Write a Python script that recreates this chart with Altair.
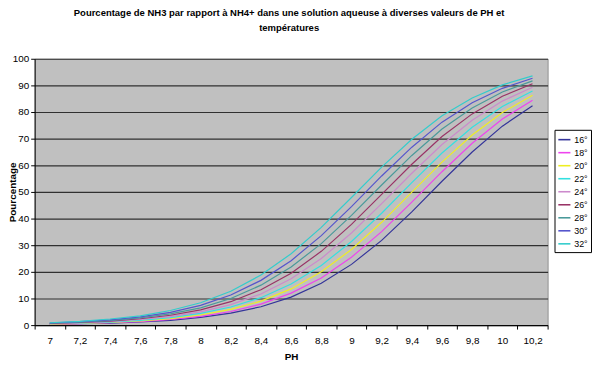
import altair as alt
import pandas as pd

ph_labels = ["7", "7,2", "7,4", "7,6", "7,8", "8", "8,2", "8,4", "8,6", "8,8",
             "9", "9,2", "9,4", "9,6", "9,8", "10", "10,2"]
temps = ["16°", "18°", "20°", "22°", "24°", "26°", "28°", "30°", "32°"]

pct_16 = [0.3, 0.5, 0.7, 1.2, 1.8, 2.9, 4.5, 6.9, 10.5, 15.7, 22.8, 31.8, 42.5, 54.0, 65.0, 74.7, 82.4]
pct_18 = [0.3, 0.5, 0.9, 1.3, 2.1, 3.3, 5.1, 7.9, 12.0, 17.7, 25.5, 35.1, 46.2, 57.6, 68.3, 77.4, 84.4]
pct_20 = [0.4, 0.6, 1.0, 1.6, 2.4, 3.8, 5.9, 9.0, 13.6, 20.0, 28.4, 38.6, 49.9, 61.2, 71.4, 79.8, 86.3]
pct_22 = [0.5, 0.7, 1.1, 1.8, 2.8, 4.4, 6.8, 10.3, 15.4, 22.4, 31.4, 42.0, 53.5, 64.6, 74.3, 82.1, 87.9]
pct_24 = [0.5, 0.8, 1.3, 2.1, 3.2, 5.0, 7.7, 11.7, 17.4, 25.0, 34.6, 45.6, 57.0, 67.8, 76.9, 84.1, 89.3]
pct_26 = [0.6, 1.0, 1.5, 2.4, 3.7, 5.7, 8.8, 13.3, 19.5, 27.7, 37.8, 49.1, 60.4, 70.8, 79.3, 85.9, 90.6]
pct_28 = [0.7, 1.1, 1.7, 2.7, 4.2, 6.5, 10.0, 15.0, 21.8, 30.6, 41.2, 52.6, 63.7, 73.6, 81.5, 87.5, 91.7]
pct_30 = [0.8, 1.3, 2.0, 3.1, 4.8, 7.4, 11.3, 16.8, 24.2, 33.6, 44.5, 56.0, 66.8, 76.2, 83.5, 88.9, 92.7]
pct_32 = [0.9, 1.4, 2.3, 3.5, 5.5, 8.4, 12.7, 18.8, 26.8, 36.7, 47.9, 59.3, 69.8, 78.6, 85.3, 90.2, 93.6]

series = [pct_16, pct_18, pct_20, pct_22, pct_24, pct_26, pct_28, pct_30, pct_32]
colors = ["#34349a", "#ee44ee", "#eeee22", "#33e0e0", "#cc8acc",
          "#993366", "#4a9a9a", "#5555cc", "#33cccc"]

rows = []
for t, vals in zip(temps, series):
    for ph, v in zip(ph_labels, vals):
        rows.append({"PH": ph, "Temp": t, "Pourcentage": v})
df = pd.DataFrame(rows)

FONT = "Liberation Sans"

chart = alt.Chart(df).mark_line(strokeWidth=1.2).encode(
    x=alt.X("PH:O", sort=ph_labels, bandPosition=0.5,
            scale=alt.Scale(type="band", paddingInner=0, paddingOuter=0),
            axis=alt.Axis(title="PH", labelAngle=0, tickBand="extent", grid=False,
                          domainColor="#000000", tickColor="#000000", tickSize=4,
                          labelPadding=7, labelFont=FONT, labelFontSize=10,
                          labelColor="#000000", titleFont=FONT, titleFontSize=10,
                          titleFontWeight="bold", titleColor="#000000", titlePadding=6)),
    y=alt.Y("Pourcentage:Q",
            scale=alt.Scale(domain=[0, 100], nice=False),
            axis=alt.Axis(title="Pourcentage", values=list(range(0, 101, 10)),
                          grid=True, gridColor="#303030", gridWidth=1.2,
                          domainColor="#000000", tickColor="#000000", tickSize=4,
                          labelPadding=2, labelFont=FONT, labelFontSize=10,
                          labelColor="#000000", titleFont=FONT, titleFontSize=10,
                          titleFontWeight="bold", titleColor="#000000",
                          titleX=-22, titleY=135, titleBaseline="middle",
                          titleAngle=270)),
    color=alt.Color("Temp:N", sort=temps,
                    scale=alt.Scale(domain=temps, range=colors),
                    legend=alt.Legend(title=None, orient="none", legendX=527, legendY=72,
                                      strokeColor="#000000", fillColor="#ffffff",
                                      padding=3, symbolType="stroke", symbolSize=150,
                                      symbolStrokeWidth=1.6, rowPadding=1.2,
                                      labelFont=FONT, labelFontSize=9,
                                      labelColor="#000000", labelOffset=3)),
).properties(
    width=520,
    height=270,
    title=alt.TitleParams(
        text=["Pourcentage de NH3 par rapport à NH4+ dans une solution aqueuse à diverses valeurs de PH et",
              "températures"],
        font=FONT, fontSize=9.6, fontWeight="bold", color="#000000",
        anchor="middle", lineHeight=15, offset=22, dx=-2),
    autosize=alt.AutoSizeParams(type="none"),
    padding={"left": 27, "top": 49, "right": 45, "bottom": 40},
).configure_view(fill="#c0c0c0", stroke="#909090", strokeWidth=1)

chart.save("out.html", embed_options={"renderer": "svg", "actions": False})
